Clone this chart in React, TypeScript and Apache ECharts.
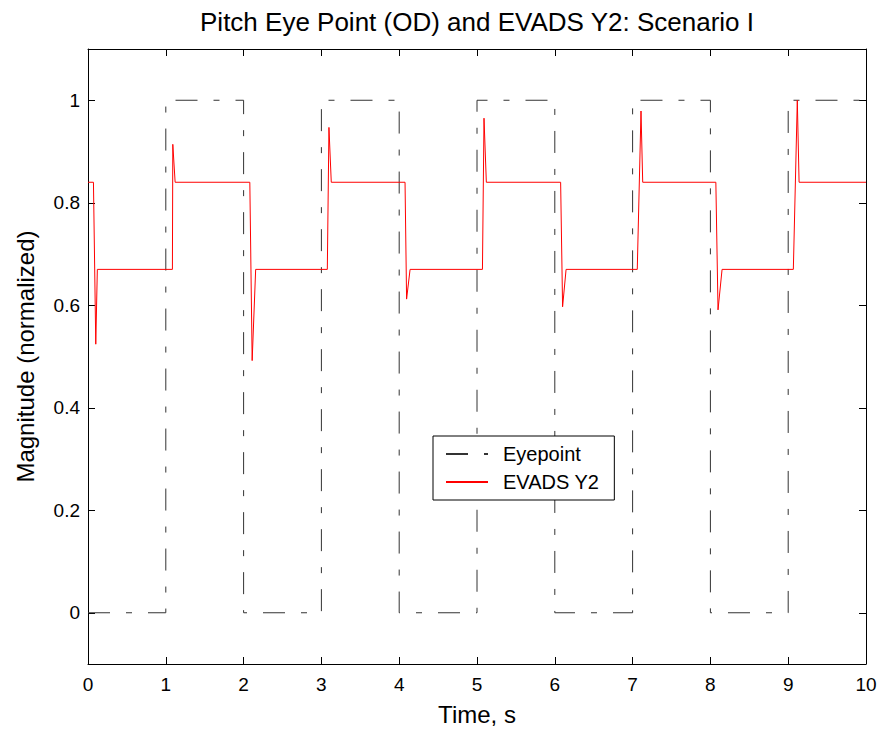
import React, { useEffect, useRef } from "react";
import * as echarts from "echarts";

// Eyepoint square wave (time, value)
const eyeTimes = [0, 1, 1, 2, 2, 3, 3, 4, 4, 5, 5, 6, 6, 7, 7, 8, 8, 9, 9, 10];
const eyeValues = [0, 0, 1, 1, 0, 0, 1, 1, 0, 0, 1, 1, 0, 0, 1, 1, 0, 0, 1, 1];

// EVADS Y2 response (time, value)
const evadsTimes = [
  0, 0.07, 0.1, 0.12,
  1.085, 1.09, 1.12,
  2.08, 2.11, 2.155,
  3.076, 3.097, 3.127,
  4.075, 4.095, 4.14,
  5.07, 5.09, 5.12,
  6.075, 6.1, 6.145,
  7.06, 7.108, 7.13,
  8.07, 8.098, 8.15,
  9.066, 9.117, 9.14,
  10,
];
const evadsValues = [
  0.84, 0.84, 0.524, 0.67,
  0.67, 0.914, 0.84,
  0.84, 0.492, 0.67,
  0.67, 0.947, 0.84,
  0.84, 0.612, 0.67,
  0.67, 0.965, 0.84,
  0.84, 0.597, 0.67,
  0.67, 0.979, 0.84,
  0.84, 0.591, 0.67,
  0.67, 1.0, 0.84,
  0.84,
];

const yTicks = [0, 0.2, 0.4, 0.6, 0.8, 1];
const titleText = "Pitch Eye Point (OD) and EVADS Y2: Scenario I";

const FONT = "Liberation Sans, Arial, Helvetica, sans-serif";

export default function App() {
  const ref = useRef<HTMLDivElement>(null);
  useEffect(() => {
    if (!ref.current) return;
    const chart = echarts.init(ref.current, null, { renderer: "svg" });
    const eyeData = eyeTimes.map((t, i) => [t, eyeValues[i]]);
    const evData = evadsTimes.map((t, i) => [t, evadsValues[i]]);
    const xAxisBase = {
      type: "value" as const,
      min: 0,
      max: 10,
      interval: 1,
      splitLine: { show: false },
      axisLine: { show: true, onZero: false, lineStyle: { color: "#000", width: 1 } },
      axisTick: { show: true, inside: true, length: 7, lineStyle: { color: "#000" } },
    };
    const yAxisBase = {
      type: "value" as const,
      min: -0.1,
      max: 1.1,
      splitLine: { show: false },
      axisLine: { show: true, onZero: false, lineStyle: { color: "#000", width: 1 } },
      axisTick: {
        show: true,
        inside: true,
        length: 7,
        customValues: yTicks,
        lineStyle: { color: "#000" },
      },
    };
    chart.setOption({
      animation: false,
      backgroundColor: "#fff",
      graphic: [
        {
          type: "text",
          x: 477,
          y: 22,
          style: {
            text: titleText,
            fontFamily: FONT,
            fontSize: 26,
            fill: "#000",
            align: "center",
            verticalAlign: "middle",
          },
        },
      ],
      grid: { left: 88, right: 15, top: 49, bottom: 69 },
      legend: {
        orient: "vertical",
        left: 433,
        top: 436,
        padding: [8, 15, 8, 12],
        itemWidth: 42,
        itemHeight: 14,
        itemGap: 8,
        borderColor: "#000",
        borderWidth: 1,
        backgroundColor: "#fff",
        itemStyle: { opacity: 0 },
        textStyle: { fontFamily: FONT, fontSize: 20, color: "#000", padding: [0, 0, 0, 10] },
        data: ["Eyepoint", "EVADS Y2"],
      },
      xAxis: [
        {
          ...xAxisBase,
          position: "bottom",
          name: "Time, s",
          nameLocation: "middle",
          nameGap: 38,
          nameTextStyle: { fontFamily: FONT, fontSize: 24, color: "#000" },
          axisLabel: { show: true, fontFamily: FONT, fontSize: 19, color: "#000", margin: 11 },
        },
        { ...xAxisBase, position: "top", axisLabel: { show: false } },
      ],
      yAxis: [
        {
          ...yAxisBase,
          position: "left",
          name: "Magnitude (normalized)",
          nameLocation: "middle",
          nameGap: 51,
          nameTextStyle: { fontFamily: FONT, fontSize: 24, color: "#000" },
          axisLabel: {
            show: true,
            fontFamily: FONT,
            fontSize: 19,
            color: "#000",
            margin: 8,
            customValues: yTicks,
            formatter: (v: number) => String(Math.round(v * 10) / 10),
          },
        },
        { ...yAxisBase, position: "right", axisLabel: { show: false } },
      ],
      series: [
        {
          name: "Eyepoint",
          type: "line",
          data: eyeData,
          showSymbol: false,
          symbol: "none",
          lineStyle: { color: "#333", width: 1, type: [22, 16, 6, 16] },
          itemStyle: { color: "#333" },
          z: 2,
        },
        {
          name: "EVADS Y2",
          type: "line",
          data: evData,
          showSymbol: false,
          symbol: "none",
          lineStyle: { color: "#ff0000", width: 1 },
          itemStyle: { color: "#ff0000" },
          z: 3,
        },
      ],
    });
    return () => chart.dispose();
  }, []);
  return <div ref={ref} style={{ width: 881, height: 733, position: "absolute", left: 0, top: 0 }} />;
}
